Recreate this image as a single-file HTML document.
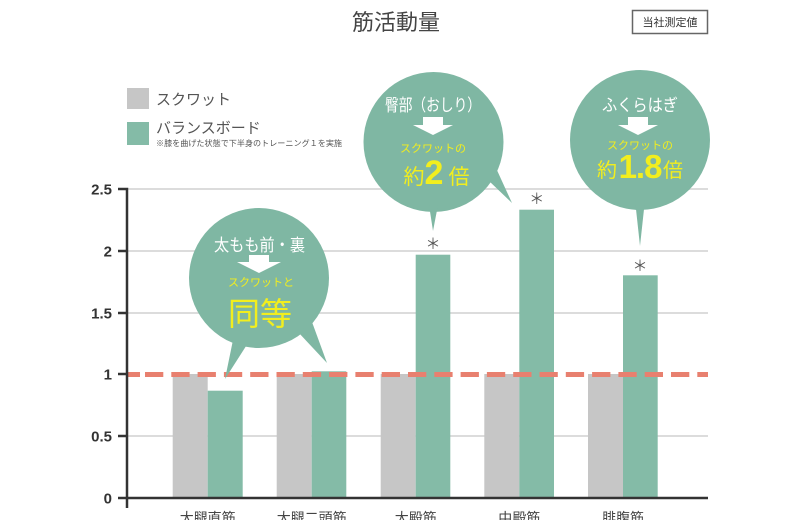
<!DOCTYPE html>
<html><head><meta charset="utf-8">
<style>
html,body{margin:0;padding:0;background:#fff;}
svg{display:block;}
text{font-family:"Liberation Sans","Noto Sans CJK JP",sans-serif;}
</style></head>
<body>
<svg width="800" height="520" viewBox="0 0 800 520" xmlns="http://www.w3.org/2000/svg">
<rect width="800" height="520" fill="#fff"/>
<!-- title -->
<text x="396" y="30" font-size="22" fill="#444" text-anchor="middle">筋活動量</text>
<rect x="632.5" y="10.5" width="75" height="23" fill="#fff" stroke="#666" stroke-width="1.5"/>
<text x="670" y="26" font-size="11" fill="#333" text-anchor="middle">当社測定値</text>
<!-- legend -->
<rect x="127" y="88" width="22" height="21" fill="#c6c6c6"/>
<rect x="127" y="122" width="22" height="23" fill="#84bba7"/>
<text x="156" y="104.5" font-size="15" fill="#555">スクワット</text>
<text x="156" y="133" font-size="15" fill="#555">バランスボード</text>
<text x="156" y="146" font-size="8" fill="#555" textLength="186" lengthAdjust="spacingAndGlyphs">※膝を曲げた状態で下半身のトレーニング１を実施</text>
<!-- gridlines -->
<g stroke="#dcdcdc" stroke-width="2">
<line x1="127" y1="189" x2="708" y2="189"/>
<line x1="127" y1="251" x2="708" y2="251"/>
<line x1="127" y1="313" x2="708" y2="313"/>
<line x1="127" y1="436" x2="708" y2="436"/>
</g>
<!-- bars -->
<g fill="#c6c6c6">
<rect x="172.7" y="374" width="35" height="124"/>
<rect x="276.7" y="374" width="35" height="124"/>
<rect x="380.7" y="374" width="35" height="124"/>
<rect x="484.3" y="374" width="35" height="124"/>
<rect x="588" y="374" width="35" height="124"/>
</g>
<g fill="#84bba7">
<rect x="207.7" y="390.7" width="35" height="107.3"/>
<rect x="311.7" y="371.3" width="34.6" height="126.7"/>
<rect x="415.7" y="254.7" width="34.6" height="243.3"/>
<rect x="519.3" y="209.7" width="34.7" height="288.3"/>
<rect x="623" y="275.3" width="34.7" height="222.7"/>
</g>
<!-- dashed line -->
<line x1="128" y1="374.5" x2="140" y2="374.5" stroke="#e8806f" stroke-width="5"/>
<line x1="145" y1="374.5" x2="708" y2="374.5" stroke="#e8806f" stroke-width="5" stroke-dasharray="18.3 8"/>
<!-- axes -->
<g stroke="#333" stroke-width="2.5" fill="none">
<polyline points="118,189 127,189 127,508"/>
<line x1="126" y1="498" x2="708" y2="498"/>
<line x1="118" y1="251" x2="127" y2="251"/>
<line x1="118" y1="313" x2="127" y2="313"/>
<line x1="118" y1="374" x2="127" y2="374"/>
<line x1="118" y1="436" x2="127" y2="436"/>
<line x1="118" y1="498" x2="127" y2="498"/>
</g>
<g font-size="15" font-weight="bold" fill="#333" text-anchor="end">
<text x="112" y="194.5">2.5</text>
<text x="112" y="256.5">2</text>
<text x="112" y="318.5">1.5</text>
<text x="112" y="379.5">1</text>
<text x="112" y="441.5">0.5</text>
<text x="112" y="503.5">0</text>
</g>
<!-- x labels -->
<g font-size="14" fill="#444" text-anchor="middle">
<text x="207.7" y="523">大腿直筋</text>
<text x="311.7" y="523">大腿二頭筋</text>
<text x="415.7" y="523">大殿筋</text>
<text x="519.3" y="523">中殿筋</text>
<text x="623" y="523">腓腹筋</text>
</g>
<!-- asterisks -->
<g font-size="15" fill="#555" text-anchor="middle">
<text x="433" y="249">＊</text>
<text x="536.7" y="204">＊</text>
<text x="640" y="271">＊</text>
</g>
<!-- bubble 1 -->
<g fill="#7fb7a3">
<circle cx="259" cy="278" r="70"/>
<polygon points="233,340 248,343 225,379"/>
<polygon points="298,332 312,322 327,363"/>
</g>
<text x="214" y="251" font-size="17" fill="#fff" textLength="91" lengthAdjust="spacingAndGlyphs">太もも前・裏</text>
<polygon points="249,255 269,255 269,262 281,262 259,273 237,262 249,262" fill="#fff"/>
<text x="261" y="286" font-size="11" fill="#f2ee1e" text-anchor="middle">スクワットと</text>
<text x="260" y="325" font-size="32" fill="#f2ee1e" text-anchor="middle">同等</text>
<!-- bubble 2 -->
<g fill="#7fb7a3">
<circle cx="433.5" cy="142" r="70"/>
<polygon points="429,205 438,205 433,231"/>
<polygon points="488,180 496,168 512,203"/>
</g>
<text x="385" y="111" font-size="17" fill="#fff" textLength="96" lengthAdjust="spacingAndGlyphs">臀部（おしり）</text>
<polygon points="423,117 443,117 443,125 453,125 433,135 413,125 423,125" fill="#fff"/>
<text x="433" y="152" font-size="11" fill="#f2ee1e" text-anchor="middle">スクワットの</text>
<text x="414" y="184" font-size="21" fill="#f2ee1e" text-anchor="middle">約</text>
<text x="434" y="184" font-size="34" font-weight="bold" fill="#f2ee1e" text-anchor="middle">2</text>
<text x="459" y="184" font-size="21" fill="#f2ee1e" text-anchor="middle">倍</text>
<!-- bubble 3 -->
<g fill="#7fb7a3">
<circle cx="640" cy="140" r="70"/>
<polygon points="635,200 645,200 640,246"/>
</g>
<text x="602" y="111" font-size="17" fill="#fff" textLength="76" lengthAdjust="spacingAndGlyphs">ふくらはぎ</text>
<polygon points="628,117 648,117 648,125 658,125 638,135 618,125 628,125" fill="#fff"/>
<text x="640" y="149" font-size="11" fill="#f2ee1e" text-anchor="middle">スクワットの</text>
<text x="607" y="177" font-size="20" fill="#f2ee1e" text-anchor="middle">約</text>
<text x="640" y="178" font-size="33" font-weight="bold" fill="#f2ee1e" text-anchor="middle" letter-spacing="-1">1.8</text>
<text x="673" y="177" font-size="20" fill="#f2ee1e" text-anchor="middle">倍</text>
</svg>
</body></html>
